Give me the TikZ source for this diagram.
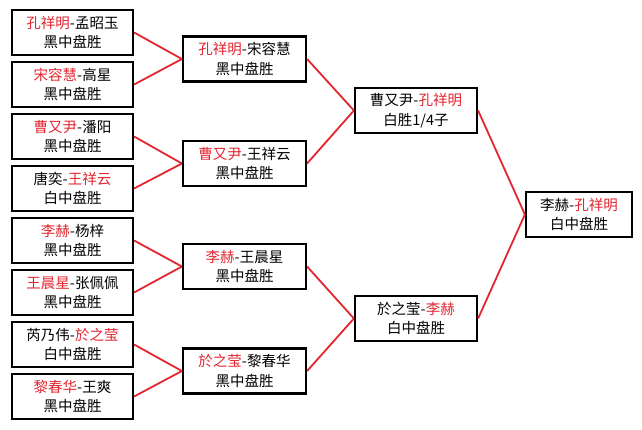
\documentclass[tikz,border=0pt]{standalone}
\usepackage{fontspec}
\newfontfamily\cjk{Noto Sans CJK SC}
\definecolor{wred}{RGB}{228,38,48}
\newcommand\R[1]{\textcolor{wred}{#1}}
\begin{document}
\begin{tikzpicture}[x=1pt,y=-1pt,
  box/.style={draw=black, line width=2.2pt, fill=white, minimum height=45pt,
    align=center, font=\cjk\fontsize{14.5}{19.5}\selectfont, inner sep=0pt},
  c1/.style={box, minimum width=121pt},
  c2/.style={box, minimum width=123pt},
  c3/.style={box, minimum width=122pt},
  c4/.style={box, minimum width=106pt},
  link/.style={draw=wred, line width=1.8pt}]
\useasboundingbox (0,0) rectangle (642,429);
\fill[white] (0,0) rectangle (642,429);
% column 1
\node[c1] (a1) at (72.5,32.5)  {\R{孔祥明}-孟昭玉\\黑中盘胜};
\node[c1] (a2) at (72.5,84.5)  {\R{宋容慧}-高星\\黑中盘胜};
\node[c1] (a3) at (72.5,136.5) {\R{曹又尹}-潘阳\\黑中盘胜};
\node[c1] (a4) at (72.5,188.5) {唐奕-\R{王祥云}\\白中盘胜};
\node[c1] (a5) at (72.5,240.5) {\R{李赫}-杨梓\\黑中盘胜};
\node[c1] (a6) at (72.5,292.5) {\R{王晨星}-张佩佩\\黑中盘胜};
\node[c1] (a7) at (72.5,344.5) {芮乃伟-\R{於之莹}\\白中盘胜};
\node[c1] (a8) at (72.5,396.5) {\R{黎春华}-王爽\\黑中盘胜};
% column 2
\node[c2] (b1) at (244.5,59)    {\R{孔祥明}-宋容慧\\黑中盘胜};
\node[c2] (b2) at (244.5,163.5) {\R{曹又尹}-王祥云\\黑中盘胜};
\node[c2] (b3) at (244.5,266.5) {\R{李赫}-王晨星\\黑中盘胜};
\node[c2] (b4) at (244.5,371)   {\R{於之莹}-黎春华\\黑中盘胜};
% column 3
\node[c3] (d1) at (416,110.5) {曹又尹-\R{孔祥明}\\白胜1/4子};
\node[c3] (d2) at (416,318.5) {於之莹-\R{李赫}\\白中盘胜};
% column 4
\node[c4] (f) at (579,214.5) {李赫-\R{孔祥明}\\白中盘胜};
% connectors
\draw[link] (a1.east) -- (b1.west);
\draw[link] (a2.east) -- (b1.west);
\draw[link] (a3.east) -- (b2.west);
\draw[link] (a4.east) -- (b2.west);
\draw[link] (a5.east) -- (b3.west);
\draw[link] (a6.east) -- (b3.west);
\draw[link] (a7.east) -- (b4.west);
\draw[link] (a8.east) -- (b4.west);
\draw[link] (b1.east) -- (d1.west);
\draw[link] (b2.east) -- (d1.west);
\draw[link] (b3.east) -- (d2.west);
\draw[link] (b4.east) -- (d2.west);
\draw[link] (d1.east) -- (f.west);
\draw[link] (d2.east) -- (f.west);
\end{tikzpicture}
\end{document}
